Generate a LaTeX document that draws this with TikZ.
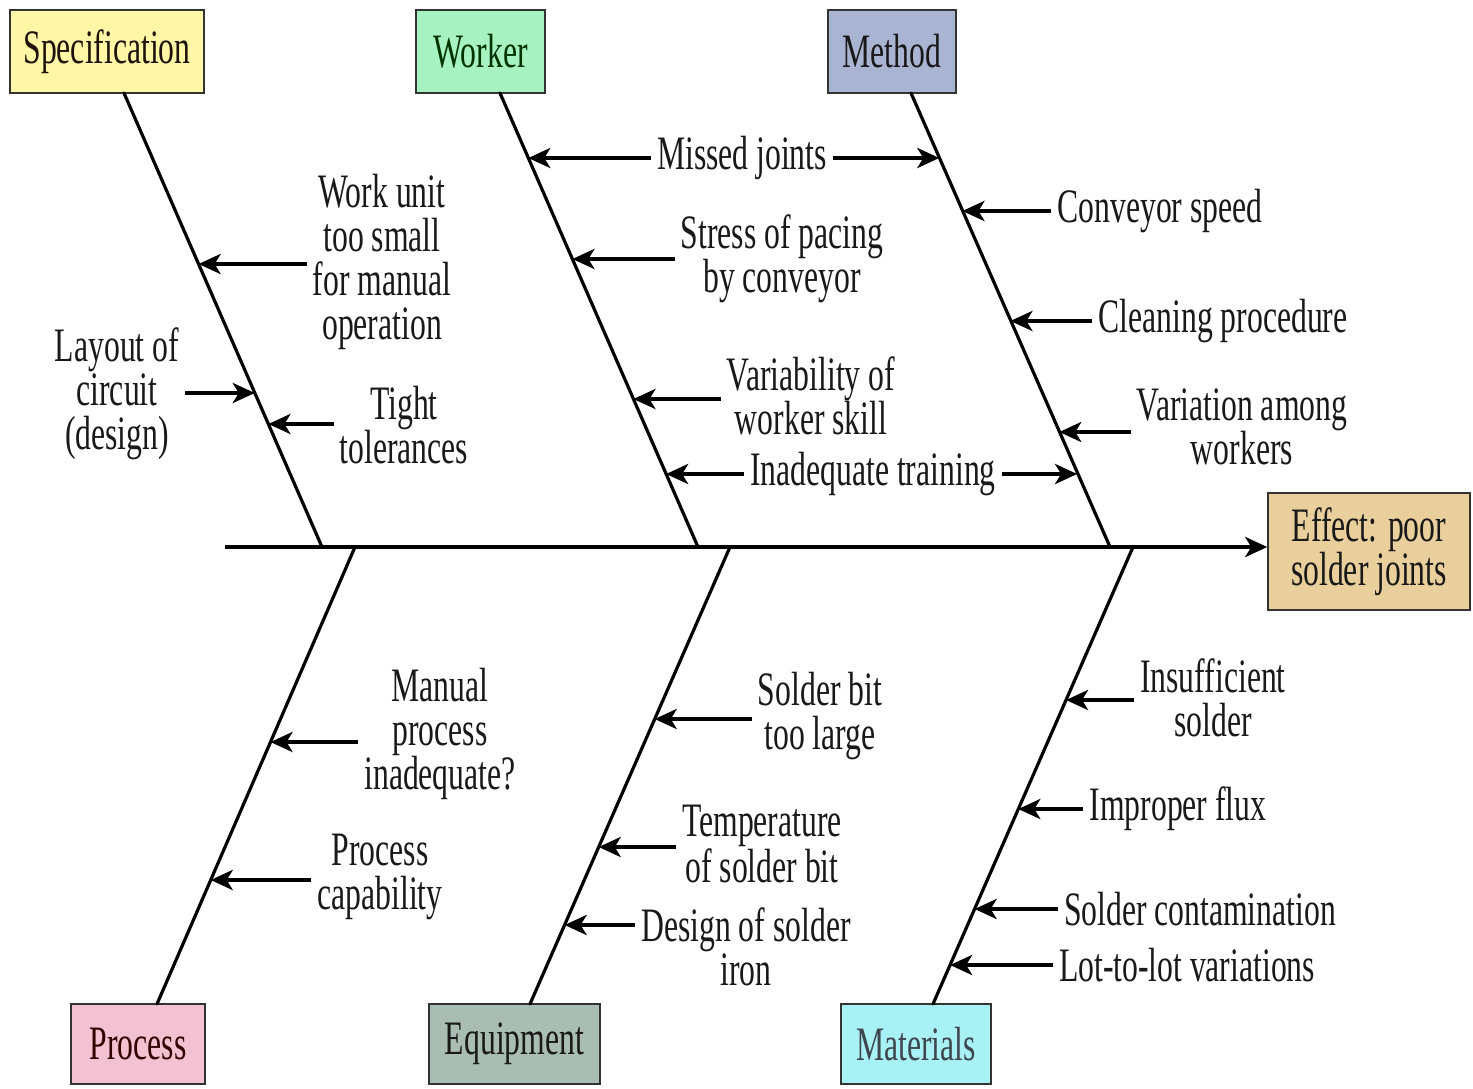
\documentclass[tikz,border=0pt]{standalone}
\usepackage{fontspec}
\setmainfont{Liberation Serif}[FakeStretch=0.66]
\usetikzlibrary{arrows.meta}
\definecolor{cSpec}{HTML}{FFF6A6}
\definecolor{cWork}{HTML}{A6F2C0}
\definecolor{cMeth}{HTML}{A8B4D2}
\definecolor{cEff}{HTML}{E8CF9C}
\definecolor{cProc}{HTML}{F2C2D2}
\definecolor{cEquip}{HTML}{A9BDB3}
\definecolor{cMat}{HTML}{A8F2F6}
\begin{document}
\begin{tikzpicture}[x=1pt,y=-1pt,
  every node/.style={font=\fontsize{48}{44}\selectfont, text=black!90},
  lbl/.style={align=center, inner sep=6pt},
  cat/.style={draw=black!80, line width=1.5pt, inner sep=0pt, align=center},
  bone/.style={line width=3.2pt, line cap=round},
  cause/.style={line width=4pt, -{Stealth[length=22pt,width=20pt,inset=6pt]}},
]
\useasboundingbox[fill=white] (0,0) rectangle (1473,1088);

% category boxes
\node[cat, fill=cSpec, minimum width=194pt, minimum height=83pt, text=black!85!brown] (spec) at (107,51.5) {Specification};
\node[cat, fill=cWork, minimum width=129pt, minimum height=83pt, text=black!80!green] (worker) at (480.5,51.5) {Worker};
\node[cat, fill=cMeth, minimum width=128pt, minimum height=83pt] (method) at (892,51.5) {Method};
\node[cat, fill=cProc, minimum width=134pt, minimum height=80pt, text=black!80!red] (process) at (138,1044) {Process};
\node[cat, fill=cEquip, minimum width=171pt, minimum height=80pt] (equip) at (514.5,1044) {Equipment};
\node[cat, fill=cMat, minimum width=150pt, minimum height=80pt, text=black!80!cyan] (mat) at (916,1044) {Materials};
\node[cat, fill=cEff, minimum width=202pt, minimum height=117pt] (effect) at (1369,551.5) {Effect: poor\\solder joints};

% bones
\coordinate (b1s) at (124,93);   \coordinate (b1e) at (322,547);
\coordinate (b2s) at (500,93);   \coordinate (b2e) at (698,547);
\coordinate (b3s) at (911,93);   \coordinate (b3e) at (1110,547);
\coordinate (b4s) at (355,547);  \coordinate (b4e) at (157,1004);
\coordinate (b5s) at (730,547);  \coordinate (b5e) at (530,1004);
\coordinate (b6s) at (1133,547); \coordinate (b6e) at (933,1004);
\draw[bone] (b1s) -- (b1e);
\draw[bone] (b2s) -- (b2e);
\draw[bone] (b3s) -- (b3e);
\draw[bone] (b4s) -- (b4e);
\draw[bone] (b5s) -- (b5e);
\draw[bone] (b6s) -- (b6e);

% spine
\coordinate (spL) at (225,547);
\draw[cause] (spL) -- (effect.west |- spL);

% arrow tips on bones
\coordinate (p1) at (198.6,264);
\coordinate (p2) at (254.8,393);
\coordinate (p3) at (268.4,424);
\coordinate (p4a) at (528.3,158);
\coordinate (p4b) at (939.3,158);
\coordinate (p5) at (572.4,259);
\coordinate (p6) at (633.4,399);
\coordinate (p7a) at (666.1,474);
\coordinate (p7b) at (1077.1,474);
\coordinate (p8) at (962.4,211);
\coordinate (p9) at (1010.4,321);
\coordinate (p10) at (1059.3,432);
\coordinate (p11) at (270.5,742);
\coordinate (p12) at (210.7,880);
\coordinate (p13) at (654.7,719);
\coordinate (p14) at (598.7,847);
\coordinate (p15) at (564.6,925);
\coordinate (p16) at (1066,700);
\coordinate (p17) at (1018.3,809);
\coordinate (p18) at (974.6,909);
\coordinate (p19) at (950.1,965);

% cause labels
\node[lbl] (t1) at (382,262) {Work unit\\too small\\for manual\\operation};
\node[lbl] (t2) at (117,394) {Layout of\\circuit\\(design)};
\node[lbl] (t3) at (404,425) {Tight\\tolerances};
\node[lbl] (t4) at (742,158) {Missed joints};
\node[lbl] (t5) at (782,259) {Stress of pacing\\by conveyor};
\node[lbl] (t6) at (811,396) {Variability of\\worker skill};
\node[lbl] (t7) at (873,474) {Inadequate training};
\node[lbl] (t8) at (1160,211) {Conveyor speed};
\node[lbl] (t9) at (1223,321) {Cleaning procedure};
\node[lbl] (t10) at (1242,427) {Variation among\\workers};
\node[lbl] (t11) at (440,734) {Manual\\process\\inadequate?};
\node[lbl] (t12) at (380,877) {Process\\capability};
\node[lbl] (t13) at (820,716) {Solder bit\\too large};
\node[lbl] (t14) at (762,844) {Temperature\\of solder bit};
\node[lbl] (t15) at (746,947) {Design of solder\\iron};
\node[lbl] (t16) at (1213,698) {Insufficient\\solder};
\node[lbl] (t17) at (1178,809) {Improper flux};
\node[lbl] (t18) at (1200,909) {Solder contamination};
\node[lbl] (t19) at (1187,965) {Lot-to-lot variations};

% cause arrows
\draw[cause] (t1.west |- p1) -- (p1);
\draw[cause] (t2.east |- p2) -- (p2);
\draw[cause] (t3.west |- p3) -- (p3);
\draw[cause] (t4.west |- p4a) -- (p4a);
\draw[cause] (t4.east |- p4b) -- (p4b);
\draw[cause] (t5.west |- p5) -- (p5);
\draw[cause] (t6.west |- p6) -- (p6);
\draw[cause] (t7.west |- p7a) -- (p7a);
\draw[cause] (t7.east |- p7b) -- (p7b);
\draw[cause] (t8.west |- p8) -- (p8);
\draw[cause] (t9.west |- p9) -- (p9);
\draw[cause] (t10.west |- p10) -- (p10);
\draw[cause] (t11.west |- p11) -- (p11);
\draw[cause] (t12.west |- p12) -- (p12);
\draw[cause] (t13.west |- p13) -- (p13);
\draw[cause] (t14.west |- p14) -- (p14);
\draw[cause] (t15.west |- p15) -- (p15);
\draw[cause] (t16.west |- p16) -- (p16);
\draw[cause] (t17.west |- p17) -- (p17);
\draw[cause] (t18.west |- p18) -- (p18);
\draw[cause] (t19.west |- p19) -- (p19);
\end{tikzpicture}
\end{document}
